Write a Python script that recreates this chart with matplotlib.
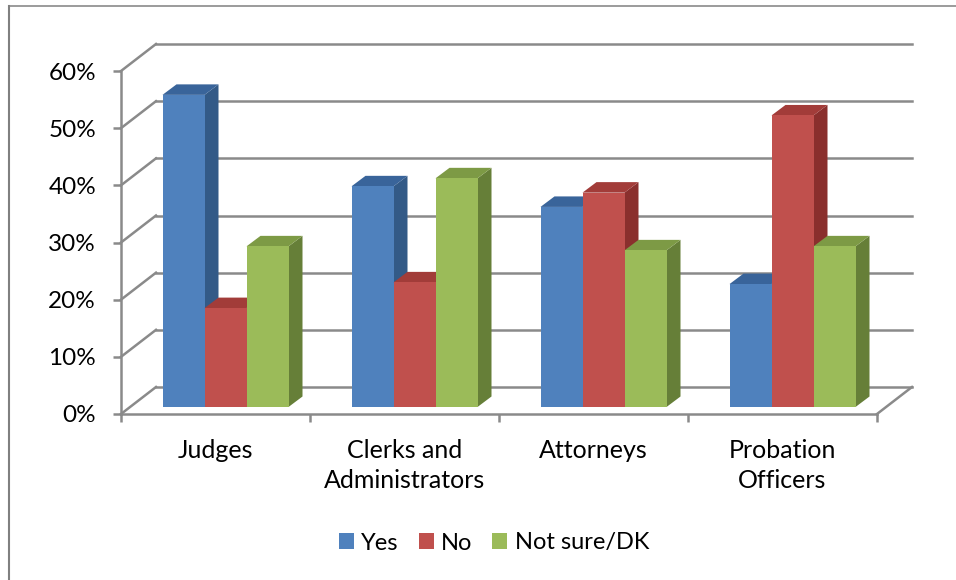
import matplotlib
matplotlib.use("Agg")
import matplotlib.pyplot as plt
from matplotlib.lines import Line2D
from matplotlib.patches import Patch, Polygon

categories = ["Judges", "Clerks and\nAdministrators", "Attorneys", "Probation\nOfficers"]
series = ["Yes", "No", "Not sure/DK"]
yes = [54.6, 38.6, 35.0, 21.5]
no = [17.3, 21.8, 37.5, 51.0]
not_sure = [28.1, 40.0, 27.4, 28.1]
values = [yes, no, not_sure]
yticks = [0, 10, 20, 30, 40, 50, 60]

front_colors = ["#4F81BD", "#C0504D", "#9BBB59"]
side_colors = ["#335A87", "#8A2F2D", "#667F38"]
top_colors = ["#39649A", "#A23C39", "#7D9A45"]
grid_color = "#8A8A8A"

W, H = 956, 580
plt.rcParams["font.family"] = ["Lato", "DejaVu Sans"]
fig = plt.figure(figsize=(W / 100, H / 100), dpi=100)
ax = fig.add_axes([121 / W, (H - 414) / H, 756 / W, 343 / H])
ax.set_xlim(0, 4)
ax.set_ylim(0, 60)

# pixel sizes of the fake 3d depth, turned into data units
px_x = 4 / 756
px_y = 60 / 343
wall_dx, wall_dy = 35 * px_x, 27 * px_y
bar_dx1, bar_dy1 = 10 * px_x, 7 * px_y
bar_dx2, bar_dy2 = 24 * px_x, 17.5 * px_y
lw = 1.8

# walls and gridlines
for v in yticks:
    ax.plot([0, wall_dx], [v, v + wall_dy], color=grid_color, lw=lw, clip_on=False, zorder=1)
    ax.plot([wall_dx, 4 + wall_dx], [v + wall_dy, v + wall_dy], color=grid_color, lw=lw, clip_on=False, zorder=1)
ax.plot([4, 4 + wall_dx], [0, wall_dy], color=grid_color, lw=lw, clip_on=False, zorder=1)

# bars, left to right so each front hides the side of the one before
bar_w = 1 / 4.5
z = 3
for c in range(len(categories)):
    for s in range(len(series)):
        x0 = c + 0.75 * bar_w + s * bar_w + bar_dx1
        x1 = x0 + bar_w
        top = values[s][c] + bar_dy1
        dx = bar_dx2 - bar_dx1
        dy = bar_dy2 - bar_dy1
        ax.add_patch(Polygon([(x1, bar_dy1), (x1 + dx, bar_dy1 + dy), (x1 + dx, top + dy), (x1, top)],
                             fc=side_colors[s], ec="none", clip_on=False, zorder=z))
        ax.add_patch(Polygon([(x0, top), (x0 + dx, top + dy), (x1 + dx, top + dy), (x1, top)],
                             fc=top_colors[s], ec="none", clip_on=False, zorder=z))
        ax.bar(x0, values[s][c], width=bar_w, bottom=bar_dy1, align="edge",
               color=front_colors[s], clip_on=False, zorder=z + 0.5)
        z += 1
ax.set_xlim(0, 4)
ax.set_ylim(0, 60)

ax.patch.set_visible(False)
for name in ["top", "right"]:
    ax.spines[name].set_visible(False)
for name in ["left", "bottom"]:
    ax.spines[name].set_color(grid_color)
    ax.spines[name].set_linewidth(lw)
    ax.spines[name].set_zorder(2)

ax.set_yticks(yticks)
ax.set_yticklabels(["{}%".format(v) for v in yticks])
ax.set_xticks(range(5))
ax.set_xticklabels([])
ax.set_xticks([c + 0.5 for c in range(len(categories))], minor=True)
ax.set_xticklabels(categories, minor=True, linespacing=1.38)
ax.tick_params(axis="y", length=6, width=lw, color=grid_color, pad=12, labelsize=17.5, labelcolor="black")
ax.tick_params(axis="x", which="major", length=6, width=lw, color=grid_color)
ax.tick_params(axis="x", which="minor", length=0, pad=18, labelsize=18, labelcolor="black")

handles = [Patch(fc=col, ec="none") for col in front_colors]
fig.legend(handles, series, loc="center", bbox_to_anchor=(494 / W, 1 - 543 / H), ncol=3, frameon=False,
           fontsize=17, handlelength=0.64, handleheight=0.64, handletextpad=0.3, columnspacing=0.85,
           labelcolor="black")

# chart frame, only top and left show in the crop
fig.add_artist(Line2D([9 / W, 9 / W], [0, 1 - 6 / H], color="#808080", lw=1.5))
fig.add_artist(Line2D([9 / W, 1], [1 - 6 / H, 1 - 6 / H], color="#808080", lw=1.1))

fig.savefig("out.png", dpi=100)
